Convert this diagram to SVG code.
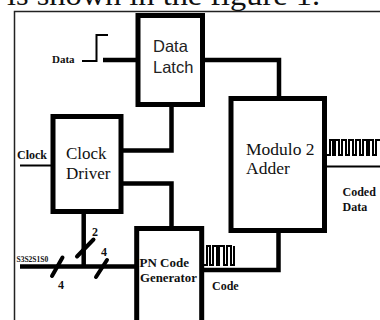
<svg xmlns="http://www.w3.org/2000/svg" width="380" height="320" viewBox="0 0 380 320">
<style>
.box{fill:#fff;stroke:#000;stroke-width:5}
.wire{fill:none;stroke:#000;stroke-width:4.5}
.thin{fill:none;stroke:#000;stroke-width:2}
.slash{fill:none;stroke:#000;stroke-width:4;stroke-linecap:round}
.sans{font-family:"Liberation Sans",Arial,sans-serif;fill:#222}
.serif{font-family:"Liberation Serif","Times New Roman",serif;fill:#111}
.bold{font-family:"Liberation Serif","Times New Roman",serif;font-weight:bold;fill:#111}
</style>
<rect width="380" height="320" fill="#fff"/>
<text x="7" y="5" class="serif" font-size="30" textLength="313" lengthAdjust="spacingAndGlyphs">is shown in the figure 1.</text>
<path d="M380,11.5 H14.5 V320" fill="none" stroke="#222" stroke-width="1.5"/>
<g id="connectors">
<path class="thin" d="M82,61 H96.5 V35 H108" stroke-width="2.5"/>
<path class="wire" d="M103,60 H137" stroke-width="3"/>
<path class="wire" d="M203,60 H279 V97"/>
<path class="wire" d="M121,150.5 H171.5 V105"/>
<path class="wire" d="M121,183.5 H171.5 V227"/>
<path class="thin" d="M20,165.5 H51" stroke="#222"/>
<path class="wire" d="M83.7,211 V266.5"/>
<path class="wire" d="M20,266.5 H135"/>
<path class="slash" d="M52,276 L62.5,257.5"/>
<path class="slash" d="M77,256.5 L93.5,239.5"/>
<path class="slash" d="M96,277 L107,260"/>
<path class="wire" d="M203,270 H278.5 V231"/>
<path class="thin" d="M204,265 H207 V246 H210 V265 H213 V246 H217 V265 H219 V246 H224 V265 H227 V246 H231 V265 H234 V246"/>
<path class="thin" d="M326,166.5 H380" stroke="#333"/>
<path class="thin" d="M326,155 H330 V140 H333 V155 H335 V140 H339 V155 H342 V140 H346 V155 H349 V140 H353 V155 H356 V140 H360 V155 H363 V140 H367 V155 H369 V140 H373 V155 H376 V140 H380"/>
</g>
<g id="data-latch">
<rect class="box" x="138" y="15.5" width="64.5" height="89" stroke-width="5.5"/>
<text class="sans" x="153" y="52" font-size="16.5">Data</text>
<text class="sans" x="153" y="73" font-size="16.5">Latch</text>
</g>
<g id="clock-driver">
<rect class="box" x="53" y="116.5" width="68" height="95"/>
<text class="serif" x="66" y="159" font-size="17">Clock</text>
<text class="serif" x="66" y="179" font-size="17">Driver</text>
</g>
<g id="modulo-adder">
<rect class="box" x="231" y="98.5" width="93.5" height="132"/>
<text class="serif" x="246" y="155" font-size="17.5">Modulo 2</text>
<text class="serif" x="246" y="174" font-size="17.5">Adder</text>
</g>
<g id="pn-generator">
<rect class="box" x="136.7" y="228.5" width="65" height="100"/>
<text class="bold" x="139.5" y="266.5" font-size="13">PN Code</text>
<text class="bold" x="140" y="282" font-size="12.8">Generator</text>
</g>
<g id="labels">
<text class="bold" x="52" y="63" font-size="11">Data</text>
<text class="bold" x="17" y="159" font-size="12">Clock</text>
<text class="bold" x="16.5" y="262" font-size="7.5">S3S2S1S0</text>
<text class="bold" x="58" y="289" font-size="12">4</text>
<text class="bold" x="92" y="236" font-size="12">2</text>
<text class="bold" x="101" y="256" font-size="12">4</text>
<text class="bold" x="212" y="290" font-size="12">Code</text>
<text class="bold" x="342.5" y="196" font-size="12">Coded</text>
<text class="bold" x="342.5" y="211" font-size="12">Data</text>
</g>
</svg>
